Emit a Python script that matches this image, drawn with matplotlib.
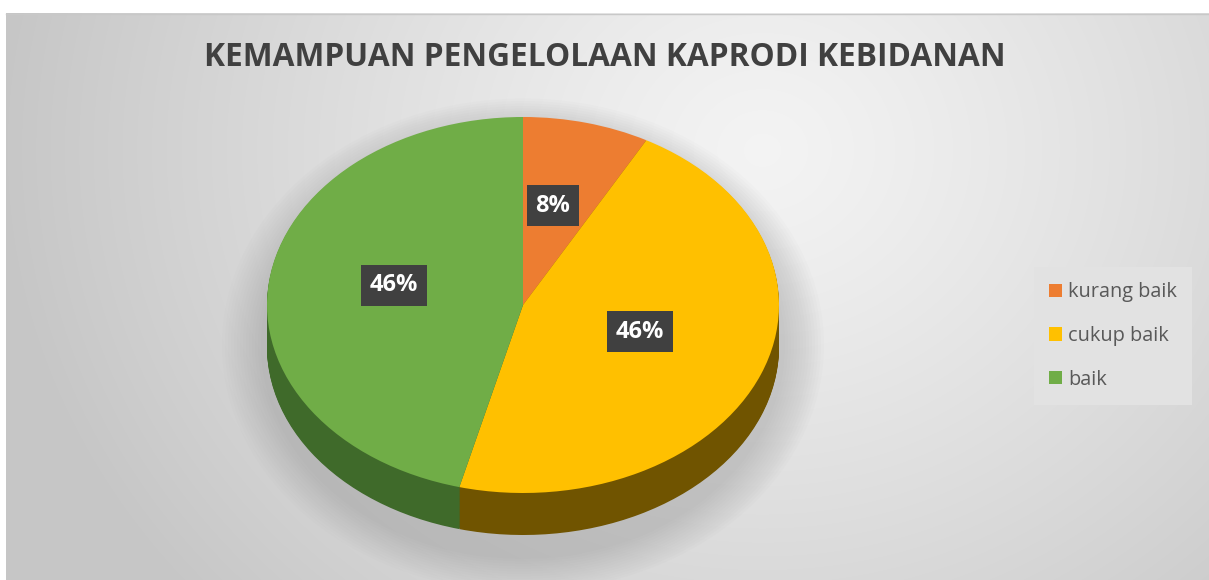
import numpy as np
import matplotlib
matplotlib.use("Agg")
import matplotlib.pyplot as plt
import matplotlib.transforms as mtransforms
from matplotlib.patches import Ellipse

plt.rcParams['font.family'] = ['Open Sans', 'DejaVu Sans']

# data
title = 'KEMAMPUAN PENGELOLAAN KAPRODI KEBIDANAN'
categories = ['kurang baik', 'cukup baik', 'baik']
shares = [8, 46, 46]
top_colors = ['#ED7D31', '#FFC000', '#70AD47']
side_colors = ['#8a4519', '#705400', '#3f6a2a']

W, H = 1209, 580
fig = plt.figure(figsize=(W / 100, H / 100), dpi=100)
fig.patch.set_facecolor('white')

# background panel with a soft radial gradient
ax_bg = fig.add_axes([0, 0, 1, 1])
ax_bg.set_xlim(0, W)
ax_bg.set_ylim(H, 0)
ax_bg.axis('off')
yy, xx = np.mgrid[0:H, 0:W]
dist = np.sqrt(((xx - 760) / 1.0) ** 2 + ((yy - 140) / 0.9) ** 2)
t = np.clip(dist / 760, 0, 1) ** 1.2
grey = 0.955 - t * (0.955 - 0.78)
img = np.dstack([grey, grey, grey])
ax_bg.imshow(img, extent=[6, W, H, 13], aspect='auto', zorder=0)
ax_bg.plot([6, W], [13.5, 13.5], color='#c8c8c8', lw=1, zorder=1)

# soft shadow under the pie
for k in range(14):
    ax_bg.add_patch(Ellipse((523, 345), 2 * (262 + k * 3), 2 * (214 + k * 2.5),
                            facecolor='#808080', edgecolor='none',
                            alpha=0.022, zorder=1))

ax_bg.text(605, 58, title, ha='center', va='center', fontsize=22.8,
           fontweight='bold', color='#404040')

# pie axes: ellipse with rx=256, ry=188 px, centre (523, 305), depth 42 px
cx, cy, rx, ry, depth = 523, 305, 256, 188, 42
d = depth / ry
ax = fig.add_axes([(cx - rx) / W, (H - (cy + ry + depth)) / H,
                   2 * rx / W, (2 * ry + depth) / H])

# side of the 3d pie: stacked darker copies shifted down
for off in np.linspace(d, 0.005, 45):
    ax.pie(shares, colors=side_colors, startangle=90, counterclock=False,
           center=(0, -off), wedgeprops=dict(linewidth=0, antialiased=True))

wedges, _, autotexts = ax.pie(
    shares, colors=top_colors, startangle=90, counterclock=False,
    autopct='%.0f%%', pctdistance=0.5,
    wedgeprops=dict(linewidth=0),
    textprops=dict(color='white', fontsize=17, fontweight='bold'))
lift = mtransforms.offset_copy(ax.transData, fig=fig, x=-2, y=8, units='dots')
for txt in autotexts:
    txt.set_transform(lift)
    txt.set_bbox(dict(boxstyle='square,pad=0.36', facecolor='#404040',
                      edgecolor='none'))

ax.set_aspect('auto')
ax.set_xlim(-1, 1)
ax.set_ylim(-1 - d, 1)
ax.axis('off')

leg = fig.legend(wedges, categories, loc='center left',
                 bbox_to_anchor=(1034 / W, 1 - 336 / H),
                 fontsize=14.3, frameon=True, fancybox=False,
                 handlelength=0.65, handleheight=0.65, handletextpad=0.3,
                 labelspacing=1.2, borderpad=0.75, borderaxespad=0)
leg.get_frame().set_facecolor('#e2e2e2')
leg.get_frame().set_edgecolor('none')
leg.get_frame().set_alpha(1)
for txt in leg.get_texts():
    txt.set_color('#595959')

fig.savefig('out.png', dpi=100)
